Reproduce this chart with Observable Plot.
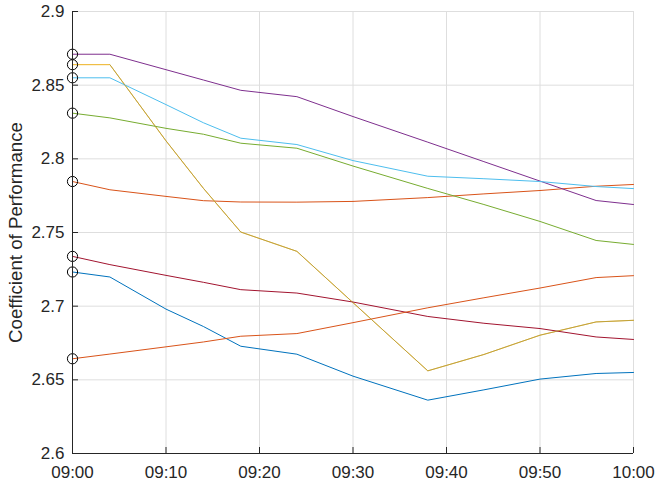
<!DOCTYPE html>
<html>
<head>
<meta charset="utf-8">
<script src="https://cdn.jsdelivr.net/npm/d3@7"></script>
<script src="https://cdn.jsdelivr.net/npm/@observablehq/plot@0.6"></script>
<style>
  html, body { margin: 0; padding: 0; background: #fff; }
  #chart svg { display: block; font-family: "Liberation Sans", Arial, Helvetica, sans-serif; }
</style>
</head>
<body>
<div id="chart"></div>
<script>
// ---- data ----
const times = ["09:00","09:04","09:10","09:14","09:18","09:24","09:30","09:38","09:44","09:50","09:56","10:00"];
const seriesNames = ["s1","s2","s3","s4","s5","s6","s7","s8"];
const seriesColors = ["#0072BD","#D95319","#EDB120","#7E2F8E","#77AC30","#4DBEEE","#A2142F","#D95319"];

const s1 = [2.7232, 2.7198, 2.6980, 2.6862, 2.6728, 2.6674, 2.6525, 2.6362, 2.6432, 2.6505, 2.6543, 2.6550];
const s2 = [2.7846, 2.7790, 2.7745, 2.7716, 2.7707, 2.7706, 2.7711, 2.7737, 2.7762, 2.7785, 2.7814, 2.7826];
const s3 = [2.8639, 2.8639, 2.8122, 2.7800, 2.7503, 2.7372, 2.7024, 2.6561, 2.6672, 2.6803, 2.6893, 2.6904];
const s4 = [2.8710, 2.8710, 2.8605, 2.8535, 2.8465, 2.8422, 2.8287, 2.8113, 2.7981, 2.7849, 2.7717, 2.7690];
const s5 = [2.8310, 2.8278, 2.8207, 2.8167, 2.8106, 2.8072, 2.7951, 2.7799, 2.7690, 2.7575, 2.7446, 2.7419];
const s6 = [2.8550, 2.8550, 2.8368, 2.8245, 2.8140, 2.8097, 2.7988, 2.7882, 2.7865, 2.7846, 2.7812, 2.7798];
const s7 = [2.7338, 2.7282, 2.7209, 2.7162, 2.7112, 2.7089, 2.7028, 2.6930, 2.6884, 2.6848, 2.6791, 2.6774];
const s8 = [2.6643, 2.6675, 2.6724, 2.6757, 2.6796, 2.6814, 2.6888, 2.6989, 2.7057, 2.7123, 2.7194, 2.7207];
// overlapping trace drawn on top of s3 (appears olive where they coincide)
const s3overlap = [null, 2.8639, 2.8122, 2.7800, 2.7503, 2.7372, 2.7024, 2.6561, 2.6672, 2.6803, 2.6893, 2.6904];

const yTickValues = [2.6, 2.65, 2.7, 2.75, 2.8, 2.85, 2.9];
const yTickLabels = ["2.6","2.65","2.7","2.75","2.8","2.85","2.9"];
const xTickTimes = ["09:00","09:10","09:20","09:30","09:40","09:50","10:00"];
const yLabel = "Coefficient of Performance";

// ---- build ----
const parse = d3.utcParse("%H:%M");
const allSeries = [s1, s2, s3, s4, s5, s6, s7, s8];
const rows = [];
allSeries.forEach((vals, i) => vals.forEach((v, j) => rows.push({series: seriesNames[i], time: parse(times[j]), value: v})));
const overlapRows = s3overlap.map((v, j) => ({time: parse(times[j]), value: v}));
const firstRows = rows.filter(r => +r.time === +parse(times[0]));
const xTicks = xTickTimes.map(parse);
const fmtX = d3.utcFormat("%H:%M");
const yLabelOf = new Map(yTickValues.map((v, i) => [v, yTickLabels[i]]));

const ink = "#262626";
const chart = Plot.plot({
  width: 656,
  height: 488,
  marginLeft: 72,
  marginRight: 23,
  marginTop: 11,
  marginBottom: 35,
  style: {background: "#fff", color: ink, fontSize: "17px"},
  x: {type: "utc", domain: [parse("09:00"), parse("10:00")]},
  y: {domain: [2.6, 2.9]},
  color: {domain: seriesNames, range: seriesColors},
  marks: [
    Plot.gridX(xTicks, {stroke: "#dedede", strokeOpacity: 1}),
    Plot.gridY(yTickValues, {stroke: "#dedede", strokeOpacity: 1}),
    Plot.line(rows, {x: "time", y: "value", z: "series", stroke: "series", strokeWidth: 1}),
    Plot.line(overlapRows, {x: "time", y: "value", stroke: "#a89a48", strokeOpacity: 0.65, strokeWidth: 1}),
    Plot.dot(firstRows, {x: "time", y: "value", r: 5.1, stroke: "#000", fill: "none", strokeWidth: 1}),
    Plot.ruleX([parse("09:00")], {stroke: ink}),
    Plot.ruleY([2.6], {stroke: ink}),
    // inward ticks
    Plot.axisY({ticks: yTickValues, tickSize: 6, dx: 6, tickFormat: () => "", label: null, stroke: ink}),
    Plot.axisX({ticks: xTicks, tickSize: 6, dy: -6, tickFormat: () => "", label: null, stroke: ink}),
    // labels
    Plot.axisY({ticks: yTickValues, tickSize: 0, tickPadding: 8, tickFormat: d => yLabelOf.get(d), label: null, fontSize: 17, fill: ink}),
    Plot.axisX({ticks: xTicks, tickSize: 0, tickPadding: 12, tickFormat: fmtX, label: null, fontSize: 17, fill: ink}),
    Plot.text([yLabel], {frameAnchor: "left", textAnchor: "middle", rotate: -90, dx: -56, fontSize: 18.7, fill: ink})
  ]
});
document.getElementById("chart").appendChild(chart);
</script>
</body>
</html>
